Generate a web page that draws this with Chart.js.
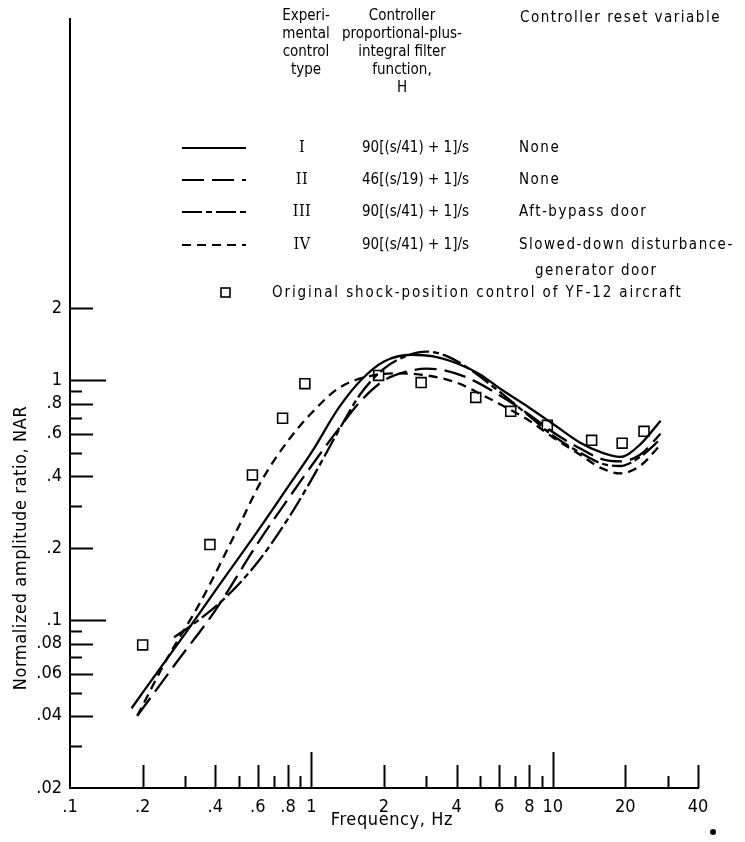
<!DOCTYPE html>
<html>
<head>
<meta charset="utf-8">
<script src="https://cdn.jsdelivr.net/npm/chart.js@4.4.0/dist/chart.umd.min.js"></script>
<style>
  html, body { margin: 0; padding: 0; background: #fff; }
  #wrap { width: 745px; height: 842px; position: relative; }
</style>
</head>
<body>
<div id="wrap"><canvas id="narChart"></canvas></div>
<script>
var FONT = '"DejaVu Sans Condensed", "Liberation Sans Narrow", "DejaVu Sans", sans-serif';
var SERIF = '"DejaVu Serif Condensed", "Liberation Serif", serif';

// frequency, Hz / normalized amplitude ratio for each experimental control type
var freqI  = [0.18, 0.2, 0.3, 0.4, 0.6, 0.8, 1.0, 1.3, 1.6, 2.0, 2.6, 3.2, 4.0, 5.0, 6.0, 8.0, 10, 13, 16, 19, 23, 28];
var narI   = [0.043, 0.05, 0.088, 0.133, 0.236, 0.36, 0.5, 0.77, 1.0, 1.2, 1.28, 1.26, 1.18, 1.06, 0.93, 0.77, 0.66, 0.55, 0.5, 0.48, 0.54, 0.68];

var freqII = [0.19, 0.28, 0.4, 0.6, 0.8, 1.0, 1.3, 1.6, 2.0, 2.5, 3.0, 3.6, 4.5, 6.0, 8.0, 10, 13, 16, 19, 23, 28];
var narII  = [0.04, 0.068, 0.11, 0.21, 0.32, 0.44, 0.63, 0.82, 1.0, 1.09, 1.12, 1.1, 1.02, 0.87, 0.72, 0.61, 0.52, 0.47, 0.46, 0.49, 0.6];

var freqIII = [0.27, 0.34, 0.45, 0.6, 0.8, 1.0, 1.3, 1.6, 2.0, 2.5, 3.0, 3.6, 4.5, 6.0, 8.0, 10, 13, 16, 19, 23, 28];
var narIII  = [0.085, 0.1, 0.127, 0.175, 0.265, 0.385, 0.62, 0.88, 1.12, 1.27, 1.32, 1.27, 1.12, 0.9, 0.71, 0.59, 0.5, 0.45, 0.44, 0.48, 0.57];

var freqIV = [0.19, 0.25, 0.35, 0.49, 0.62, 0.8, 1.0, 1.3, 1.8, 2.3, 3.0, 4.0, 5.0, 6.0, 8.0, 10, 13, 16, 19, 23, 28];
var narIV  = [0.04, 0.068, 0.121, 0.236, 0.38, 0.56, 0.73, 0.93, 1.05, 1.07, 1.05, 0.98, 0.88, 0.8, 0.68, 0.58, 0.49, 0.43, 0.41, 0.44, 0.54];

// original shock-position control of the YF-12
var freqYF12 = [0.2, 0.38, 0.57, 0.76, 0.94, 1.9, 2.85, 4.8, 6.7, 9.5, 14.5, 19.4, 23.9];
var narYF12  = [0.079, 0.207, 0.404, 0.696, 0.97, 1.05, 0.98, 0.85, 0.744, 0.65, 0.563, 0.548, 0.614];

var xTickLabels = [0.1, 0.2, 0.4, 0.6, 0.8, 1, 2, 4, 6, 8, 10, 20, 40];
var yTickLabels = [0.02, 0.04, 0.06, 0.08, 0.1, 0.2, 0.4, 0.6, 0.8, 1, 2];
var xLongTicks = [1, 10];
var xMidTicks = [0.2, 0.4, 0.6, 0.8, 2, 4, 6, 8, 20, 40];
var xShortTicks = [0.3, 0.5, 0.7, 0.9, 3, 5, 7, 9, 30];
var yLongTicks = [0.1, 1];
var yMidTicks = [0.04, 0.06, 0.08, 0.2, 0.4, 0.6, 0.8, 2];
var yShortTicks = [0.03, 0.05, 0.07, 0.09, 0.3, 0.5, 0.7, 0.9];

var controlTypes = ['I', 'II', 'III', 'IV'];
var filterFunctions = ['90[(s/41) + 1]/s', '46[(s/19) + 1]/s', '90[(s/41) + 1]/s', '90[(s/41) + 1]/s'];
var resetVariables = [['None'], ['None'], ['Aft-bypass door'], ['Slowed-down disturbance-', 'generator door']];
var dashes = [[], [22, 8], [20, 4, 6, 4], [9, 6]];

function pts(xs, ys) {
  return xs.map(function (x, i) { return { x: x, y: ys[i] }; });
}
function fmt(v) {
  return v < 1 ? String(v).replace(/^0\./, '.') : String(v);
}

var curveSets = [[freqI, narI], [freqII, narII], [freqIII, narIII], [freqIV, narIV]];
var datasets = curveSets.map(function (c, i) {
  return {
    label: controlTypes[i],
    data: pts(c[0], c[1]),
    showLine: true,
    borderColor: '#000',
    borderWidth: 2.3,
    borderDash: dashes[i],
    pointRadius: 0,
    cubicInterpolationMode: 'monotone',
    fill: false
  };
});
datasets.push({
  label: 'YF-12',
  data: pts(freqYF12, narYF12),
  showLine: false,
  pointStyle: 'rect',
  pointRadius: 7,
  pointBorderWidth: 1.6,
  pointBorderColor: '#000',
  pointBackgroundColor: '#fff'
});

// tick marks, axis titles and the tabular key
var decor = {
  id: 'decor',
  afterDraw: function (chart) {
    var ctx = chart.ctx;
    var xs = chart.scales.x, ys = chart.scales.y;
    var bottom = chart.chartArea.bottom, left = chart.chartArea.left;
    ctx.save();
    ctx.strokeStyle = '#000';
    ctx.fillStyle = '#000';
    ctx.lineWidth = 2;
    function xt(vals, len) {
      vals.forEach(function (v) {
        var p = Math.round(xs.getPixelForValue(v)) + 0.5;
        ctx.beginPath(); ctx.moveTo(p, bottom); ctx.lineTo(p, bottom - len); ctx.stroke();
      });
    }
    function yt(vals, len) {
      vals.forEach(function (v) {
        var p = Math.round(ys.getPixelForValue(v)) + 0.5;
        ctx.beginPath(); ctx.moveTo(left, p); ctx.lineTo(left + len, p); ctx.stroke();
      });
    }
    xt(xLongTicks, 36); xt(xMidTicks, 23); xt(xShortTicks, 12);
    yt(yLongTicks, 36); yt(yMidTicks, 23); yt(yShortTicks, 12);

    // axis titles
    ctx.font = '18px ' + FONT;
    ctx.letterSpacing = '0.6px';
    ctx.textAlign = 'center';
    ctx.textBaseline = 'middle';
    ctx.fillText('Frequency, Hz', 392, 820);
    ctx.save();
    ctx.translate(21, 548);
    ctx.rotate(-Math.PI / 2);
    ctx.fillText('Normalized amplitude ratio, NAR', 0, 0);
    ctx.restore();

    // key header
    ctx.font = '15px ' + FONT;
    ctx.letterSpacing = '0px';
    ['Experi-', 'mental', 'control', 'type'].forEach(function (t, i) {
      ctx.fillText(t, 306, 16 + i * 18);
    });
    ['Controller', 'proportional-plus-', 'integral filter', 'function,', 'H'].forEach(function (t, i) {
      ctx.fillText(t, 402, 16 + i * 18);
    });
    ctx.textAlign = 'left';
    ctx.letterSpacing = '1.5px';
    ctx.fillText('Controller reset variable', 520, 18);

    // key rows
    var rowY = [148, 180, 212, 245];
    controlTypes.forEach(function (t, i) {
      var y = rowY[i];
      ctx.save();
      ctx.lineWidth = 2;
      ctx.setLineDash(dashes[i]);
      ctx.beginPath(); ctx.moveTo(182, y); ctx.lineTo(246, y); ctx.stroke();
      ctx.restore();
      ctx.letterSpacing = '0.5px';
      ctx.font = '16px ' + SERIF;
      ctx.textAlign = 'center';
      ctx.fillText(t, 302, y);
      ctx.font = '15px ' + FONT;
      ctx.textAlign = 'left';
      ctx.letterSpacing = '0px';
      ctx.fillText(filterFunctions[i], 362, y);
      ctx.letterSpacing = '1.5px';
      resetVariables[i].forEach(function (r, k) {
        ctx.fillText(r, 519 + k * 16, y + k * 26);
      });
    });

    // square marker row
    ctx.lineWidth = 1.6;
    ctx.strokeRect(221, 288, 9, 9);
    ctx.letterSpacing = '1.9px';
    ctx.fillText('Original shock-position control of YF-12 aircraft', 272, 293);
    ctx.letterSpacing = '0px';

    // stray dot below the frequency axis
    ctx.beginPath(); ctx.arc(713, 832, 3, 0, Math.PI * 2); ctx.fill();
    ctx.restore();
  }
};

Chart.defaults.font.family = FONT;
Chart.defaults.color = '#000';

new Chart(document.getElementById('narChart'), {
  type: 'scatter',
  data: { datasets: datasets },
  plugins: [decor],
  options: {
    responsive: true,
    maintainAspectRatio: false,
    animation: false,
    layout: { padding: { left: 8, right: 47, top: 15, bottom: 14 } },
    plugins: { legend: { display: false }, tooltip: { enabled: false } },
    scales: {
      x: {
        type: 'logarithmic',
        min: 0.1,
        max: 40,
        afterBuildTicks: function (s) { s.ticks = xTickLabels.map(function (v) { return { value: v }; }); },
        afterFit: function (s) { s.height = 40; },
        grid: { display: false, drawTicks: false },
        border: { display: true, color: '#000', width: 2 },
        ticks: { autoSkip: false, maxRotation: 0, padding: 9, font: { size: 18 },
          callback: function (v) { return fmt(v); } }
      },
      y: {
        type: 'logarithmic',
        min: 0.02,
        max: 32.2,
        afterBuildTicks: function (s) { s.ticks = yTickLabels.map(function (v) { return { value: v }; }); },
        afterFit: function (s) { s.width = 62; },
        grid: { display: false, drawTicks: false },
        border: { display: true, color: '#000', width: 2 },
        ticks: { autoSkip: false, padding: 8, font: { size: 18 },
          callback: function (v) { return fmt(v); } }
      }
    }
  }
});
</script>
</body>
</html>
